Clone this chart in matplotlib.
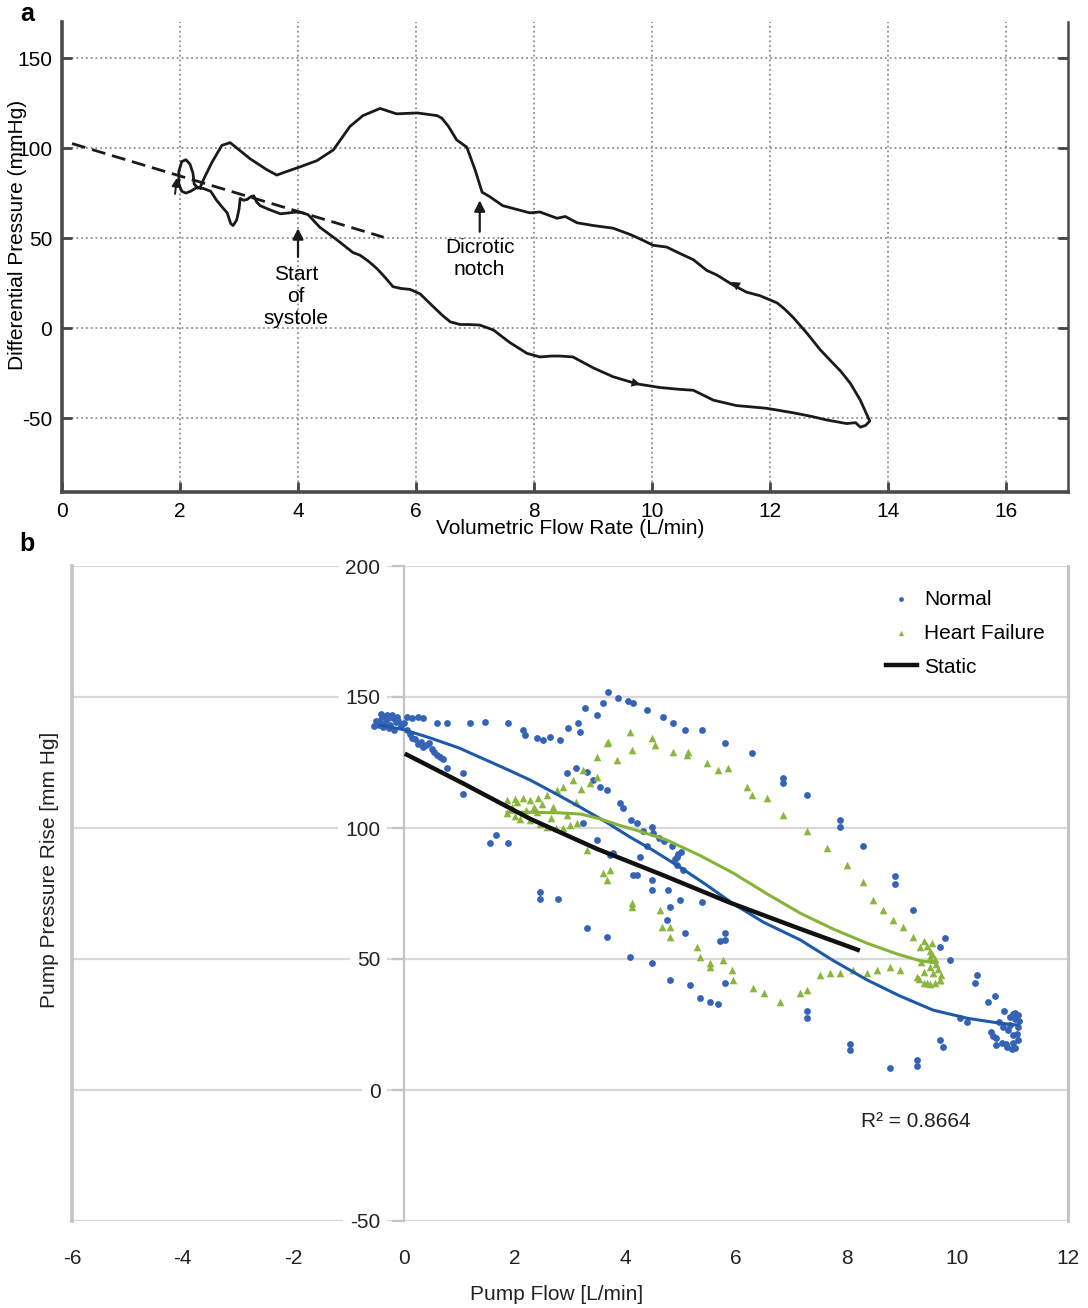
import matplotlib
matplotlib.use("Agg")
import matplotlib.pyplot as plt

plt.rcParams['font.family'] = ['Liberation Sans', 'DejaVu Sans']
plt.rcParams['axes.unicode_minus'] = False

# ---- panel a: pressure-flow loop (one beat, in drawing order) ----
flow_a = [2.30, 2.24, 2.22, 2.17, 2.10, 2.03, 1.98, 1.98, 2.03, 2.10, 2.18, 2.28,
          2.40, 2.52, 2.62, 2.72, 2.80, 2.86, 2.90, 2.96, 3.00, 3.02, 3.08, 3.14,
          3.20, 3.25, 3.30, 3.36, 3.50, 3.70, 3.85, 3.98, 4.08, 4.17, 4.37, 4.66,
          4.93, 5.05, 5.20, 5.34, 5.48, 5.61, 5.75, 5.90, 6.07, 6.29, 6.45, 6.58,
          6.75, 6.90, 7.08, 7.31, 7.59, 7.88, 8.10, 8.30, 8.44, 8.66, 9.00, 9.34,
          9.75, 10.14, 10.47, 10.70, 11.04, 11.43, 11.94, 12.39, 12.70, 12.96,
          13.30, 13.45, 13.53, 13.62, 13.69,
          13.64, 13.53, 13.36, 13.20, 13.07, 12.85, 12.63, 12.39, 12.25, 12.12,
          11.83, 11.60, 11.37, 11.10, 10.93, 10.70, 10.47, 10.25, 10.02, 9.80,
          9.63, 9.34, 9.00, 8.73, 8.53, 8.39, 8.10, 7.93, 7.70, 7.47, 7.25, 7.12,
          7.00, 6.86, 6.69, 6.55, 6.44, 6.36, 6.02, 5.67, 5.39, 5.10, 4.88, 4.60,
          4.32, 4.03, 3.81, 3.64, 3.47, 3.19, 3.00, 2.85, 2.71, 2.54, 2.42, 2.34]
pressure_a = [78, 80, 86, 91, 93.5, 92.5, 87, 80, 76, 75, 76, 78,
              77.5, 76, 71, 67, 64, 58, 57, 60, 66, 72, 71, 71.5,
              73, 73.5, 70, 68, 66, 63.5, 64, 64.5, 64, 63, 56, 49,
              42, 40.5, 37, 33, 28, 23, 22, 21.5, 19, 12, 7, 3.5,
              2, 2, 1.7, -1, -8, -14, -16, -15.5, -15.5, -16, -22, -27,
              -31, -33, -34, -34.5, -40, -43, -44.5, -47, -49, -51,
              -53, -52.5, -55, -54, -51.6,
              -48, -40, -30.6, -24, -19.6, -12, -3, 6, 10.5, 14,
              18, 20, 24, 29.5, 32, 38, 41.5, 45, 46, 49.5,
              52, 55.5, 57, 58.5, 62, 61, 64.5, 64, 66, 68, 73, 75.5,
              88, 100.5, 104.5, 112, 116.5, 118, 119.5, 119, 122, 118, 112, 99,
              93, 89.5, 87, 85, 88, 94, 99, 103, 101.5, 92, 84, 78]

# static (dashed) reference line end points
static_a_flow = [0.17, 5.45]
static_a_pressure = [102.5, 50.5]

# ---- panel b: pump pressure rise vs pump flow ----
normal_flow = [-0.55, -0.45, -0.40, -0.35, -0.30, -0.25, -0.20, -0.15, -0.10, -0.05,
               0.00, -0.45, -0.30, -0.50, -0.38, -0.22, -0.12, -0.28, -0.42, -0.18,
               0.05, 0.15, 0.26, 0.35, 0.59, 0.77, 1.19, 1.46, 1.88, 2.15, 2.19, 2.40,
               2.51, 2.64, 2.82, 2.96, 3.14, 3.18, 3.27, 3.49, 3.60, 3.69, 3.87, 4.05,
               4.14, 4.39, 4.68, 4.86, 5.08, 5.39, 5.80, 6.29, 6.85, 6.85, 7.28, 7.88,
               7.88, 8.30, 8.87, 8.87, 9.20, 9.78, 9.69, 9.87, 10.36, 10.32, 10.68, 10.55,
               10.05, 10.17, 10.60, 10.70, 10.80, 10.90, 11.00, 11.05, 11.10, 11.10,
               11.05, 11.00, 10.95, 11.10, 10.85, 10.75, 11.00, 10.92, 11.08, 10.98,
               10.88, 11.12, 10.95, 10.82, 11.04, 10.65, 10.70,
               9.69, 9.74, 9.27, 9.27, 8.78, 8.06, 8.06, 7.28, 7.28, 5.80, 5.67, 5.53,
               5.35, 5.17, 4.80, 4.48, 4.08, 3.67, 3.31, 2.78, 2.46, 2.46,
               0.10, 0.20, 0.30, 0.40, 0.50, 0.60, 0.70, 0.77, 0.45, 1.07, 1.07, 1.55,
               1.67, 1.88, 0.15, 0.25, 0.35, 0.55, 0.65, 0.05,
               2.94, 3.10, 3.30, 3.42, 3.54, 3.67, 3.90, 3.96, 4.21, 4.32, 4.48, 3.24,
               3.49, 3.78, 4.27, 4.14, 4.48, 4.48, 4.77, 4.80, 4.99, 4.75, 5.08, 5.39,
               5.80, 5.71, 5.80, 4.93, 4.93, 4.10, 4.50, 4.70, 4.85, 4.90, 5.00, 5.05,
               3.72, 4.21, 4.60, 4.95, 4.40]
normal_pressure = [139, 141, 142.5, 140, 141.5, 139.5, 142, 140.5, 141, 139,
                   140, 139.5, 143, 141, 138.5, 143, 142.5, 138, 143.5, 137.5,
                   142.4, 142, 142.4, 142, 140, 140, 140, 140.5, 140, 137.4, 135.5, 134.4,
                   133.6, 134.7, 133.6, 138, 140, 136.6, 145.8, 143, 147.7, 152, 149.6, 148.5,
                   147.7, 145, 142.4, 140, 137.4, 137.4, 132.4, 128.6, 119, 117, 112.6, 103,
                   100.5, 93, 81.5, 78.5, 68.7, 58, 54.6, 49.6, 44, 41, 36, 33.6,
                   27.5, 26, 22, 20, 18, 16.5, 18, 16, 19, 24,
                   27, 29, 25, 28.5, 30, 26, 21, 23, 21.5, 15.5,
                   17.5, 26.5, 28, 24, 29.5, 20.5, 17,
                   19, 16.5, 11.5, 9, 8.4, 17.5, 15.3, 30, 27.5, 40.8, 33, 33.5,
                   35, 40, 42, 48.5, 50.8, 58.5, 62, 73, 75.5, 73,
                   136, 134, 133, 131.5, 130, 128, 126.5, 123, 132.5, 121, 113, 94.3,
                   97.5, 94.3, 134.5, 132, 131, 129, 127, 137.5,
                   121, 123, 121.5, 118.4, 115.7, 114.5, 109.5, 107.6, 102, 99, 100.4, 102,
                   95.4, 90.5, 89, 82, 80, 76.3, 76.3, 70, 72.5, 65, 60, 71.8,
                   57.3, 57, 60, 89, 86, 103, 98, 95, 93, 88, 91, 84,
                   89.7, 82, 96, 90, 93]

hf_flow = [1.86, 2.00, 2.15, 2.28, 2.42, 2.58, 2.77, 2.88, 3.05, 3.24, 3.36, 3.49, 3.20,
           1.86, 2.00, 2.10, 2.28, 2.45, 2.58, 2.75, 2.88, 3.00, 3.13, 1.95, 2.20,
           2.35, 2.50, 2.65, 2.95, 3.10, 2.05, 2.40, 2.70,
           3.49, 3.67, 3.69, 3.85, 4.08, 4.12, 4.48, 4.54, 4.86, 5.11, 5.13, 5.48,
           5.67, 5.86, 6.20, 6.29, 6.56, 6.85, 7.28, 7.65, 8.00, 8.30, 8.48, 8.66,
           8.84, 9.02, 9.20, 9.33, 9.51,
           9.40, 9.45, 9.50, 9.55, 9.60, 9.62, 9.65, 9.70, 9.68, 9.60, 9.50, 9.40,
           9.30, 9.56, 9.69, 9.45, 9.27, 9.50, 9.40, 9.35, 9.55,
           8.96, 8.78, 8.55, 8.37, 8.11, 7.88, 7.70, 7.52, 7.28, 7.16, 6.80, 6.50,
           6.31, 5.95, 5.93, 5.77, 5.53, 5.30, 5.35, 5.53, 4.80, 4.80, 4.66, 4.63,
           4.12, 4.12, 3.72, 3.67, 3.60, 3.31]
hf_pressure = [110.7, 111, 111.5, 110.7, 111.5, 112.6, 114.5, 115.7, 118.3, 122, 117, 119.5, 115,
               105.7, 104.5, 103.5, 103, 101.5, 100.4, 100, 100, 101, 102, 108, 107,
               108, 109, 104, 105, 110, 110, 106, 108,
               127, 132.4, 133, 126, 136.6, 129.8, 134.4, 131.7, 129, 127.9, 129, 124.8,
               122, 123, 115.7, 112.6, 111.5, 105, 99, 92.4, 86, 79.4, 72.5, 68.7,
               65, 62.2, 58.4, 54.6, 50.8,
               57, 55, 53, 52, 50, 48, 46, 44, 42, 41, 40.5, 41,
               42.5, 44.6, 42, 40.8, 43, 47, 45, 49, 56,
               45.8, 47, 45.8, 44.6, 45.8, 44.6, 44.6, 43.9, 38.2, 37, 33.6, 37,
               38.9, 42, 45.8, 49.6, 48.5, 54.6, 50.8, 47, 62.2, 58.4, 62.2, 68.7,
               71.4, 70, 84, 80, 83, 91.6]

# polynomial trendlines as plotted by the spreadsheet
normal_fit_flow = [-0.43, 0.0, 0.47, 1.0, 1.37, 1.85, 2.28, 2.75, 3.18, 3.65, 4.08, 4.5,
                   4.99, 5.45, 5.92, 6.5, 7.16, 7.75, 8.37, 8.95, 9.56, 10.2, 10.77, 11.08]
normal_fit_pressure = [139.3, 137.5, 134.4, 130.5, 127, 122.5, 118.3, 113, 108, 102.3, 96.6,
                       91.5, 85, 78.5, 71.5, 64, 57.3, 49.5, 42, 36, 30.5, 27.3, 25.5, 24.8]
hf_fit_flow = [1.86, 2.3, 2.8, 3.2, 3.54, 3.9, 4.3, 4.75, 5.35, 5.95, 6.55, 7.16, 7.75,
               8.37, 8.9, 9.33, 9.6]
hf_fit_pressure = [106, 106, 105.8, 105.3, 103.5, 101, 98.5, 95.4, 89.5, 82.8, 75, 67.5,
                   61.5, 56, 52, 49.3, 48.5]
static_flow = [0.05, 1.07, 2.28, 3.49, 4.68, 5.89, 7.16, 8.2]
static_pressure = [128, 117, 103.5, 92, 82, 71.5, 61.5, 53.5]

r_squared = 0.8664

W, H = 1088, 1308
fig = plt.figure(figsize=(W / 100, H / 100), dpi=100)

# ---------------- panel a ----------------
axa = fig.add_axes([62 / W, 1 - 492 / H, 1006 / W, 470 / H])
axa.plot(flow_a, pressure_a, color='#1a1a1a', lw=2.0, solid_joinstyle='round')
axa.plot(static_a_flow, static_a_pressure, color='#1a1a1a', lw=2.0, ls=(0, (5, 2.5)))
axa.set_xlim(0, 17.05)
axa.set_ylim(-91, 170)
axa.set_xticks(range(0, 17, 2))
axa.set_yticks(range(-50, 151, 50))
axa.grid(True, ls=':', color='#8c8c8c', lw=1.3)
axa.tick_params(direction='in', length=7, width=2, right=True, labelsize=15,
                pad=7, color='#444444')
axa.spines['top'].set_visible(False)
for side in ('left', 'bottom'):
    axa.spines[side].set_linewidth(2.6)
    axa.spines[side].set_color('#4a4a4a')
axa.spines['right'].set_linewidth(1.8)
axa.spines['right'].set_color('#4a4a4a')
axa.set_xlabel('Volumetric Flow Rate (L/min)', fontsize=15)
axa.xaxis.set_label_coords(0.505, -0.058)
axa.set_ylabel('Differential Pressure (mmHg)', fontsize=15)
axa.yaxis.set_label_coords(-0.035, 0.547)

arrow = dict(arrowstyle='-|>', color='#1a1a1a', lw=1.6, mutation_scale=16)
axa.annotate('', xy=(4.0, 57), xytext=(4.0, 38), arrowprops=arrow)
axa.text(3.97, 17.8, 'Start\nof\nsystole', ha='center', va='center', fontsize=15,
         linespacing=1.2)
axa.annotate('', xy=(7.08, 72.5), xytext=(7.08, 52), arrowprops=arrow)
axa.text(7.08, 38.6, 'Dicrotic\nnotch', ha='center', va='center', fontsize=15,
         linespacing=1.2)
# direction of travel around the loop
axa.annotate('', xy=(1.955, 85), xytext=(1.91, 73),
             arrowprops=dict(arrowstyle='-|>', color='#1a1a1a', lw=1.4, mutation_scale=12))
axa.annotate('', xy=(9.85, -31.6), xytext=(9.45, -28.5),
             arrowprops=dict(arrowstyle='-|>', color='#1a1a1a', lw=0, mutation_scale=16))
axa.annotate('', xy=(11.3, 26.5), xytext=(11.6, 20.5),
             arrowprops=dict(arrowstyle='-|>', color='#1a1a1a', lw=0, mutation_scale=16))
fig.text(27 / W, 1 - 14 / H, 'a', fontsize=18, fontweight='bold', ha='center', va='center')

# ---------------- panel b ----------------
axb = fig.add_axes([72 / W, 1 - 1221 / H, 996 / W, 655 / H])
axb.set_axisbelow(True)
axb.scatter(normal_flow, normal_pressure, s=24, marker='o', color='#3563b5',
            linewidths=0, label='Normal', zorder=3)
axb.scatter(hf_flow, hf_pressure, s=30, marker='^', color='#8bb63e',
            linewidths=0, label='Heart Failure', zorder=3)
axb.plot(normal_fit_flow, normal_fit_pressure, color='#1f5aa8', lw=2.2, zorder=4,
         solid_joinstyle='round')
axb.plot(hf_fit_flow, hf_fit_pressure, color='#86b43a', lw=2.2, zorder=4,
         solid_joinstyle='round')
axb.plot(static_flow, static_pressure, color='#111111', lw=3.2, label='Static', zorder=5)

axb.set_xlim(-6, 12)
axb.set_ylim(-50, 200)
axb.set_xticks(range(-6, 13, 2))
axb.set_yticks(range(-50, 201, 50))
axb.yaxis.grid(True, color='#d9d9d9', lw=1.6)
axb.spines['left'].set_position(('data', 0))
axb.spines['left'].set_color('#c4c4c4')
axb.spines['left'].set_linewidth(1.6)
axb.spines['left'].set_zorder(0.6)
axb.spines['top'].set_visible(False)
axb.spines['bottom'].set_visible(False)
axb.spines['right'].set_color('#c4c4c4')
axb.spines['right'].set_linewidth(2.2)
axb.axvline(-6, color='#c4c4c4', lw=2.6, clip_on=False, zorder=0.6)
axb.tick_params(axis='x', length=0, pad=20, labelsize=15, labelcolor='#222222')
axb.tick_params(axis='y', length=9, width=1.6, color='#c4c4c4', pad=8,
                labelsize=15, labelcolor='#222222')
for lbl in axb.get_yticklabels():
    lbl.set_bbox(dict(facecolor='white', edgecolor='none', pad=5))

axb.set_xlabel('Pump Flow [L/min]', fontsize=15, color='#222222')
axb.xaxis.set_label_coords(0.487, -0.098)
axb.set_ylabel('Pump Pressure Rise [mm Hg]', fontsize=15, color='#222222')
axb.yaxis.set_label_coords(-0.013, 0.536)

axb.legend(loc='upper left', bbox_to_anchor=(0.817, 0.964), frameon=False, fontsize=15,
           handlelength=1.5, handletextpad=0.35, labelspacing=0.72, borderpad=0,
           borderaxespad=0, markerscale=0.7)
axb.text(9.25, -12.2, f'R\u00b2 = {r_squared:.4f}', ha='center', va='center', fontsize=15,
         color='#222222')
fig.text(27 / W, 1 - 544 / H, 'b', fontsize=18, fontweight='bold', ha='center', va='center')

fig.savefig('out.png', dpi=100)
